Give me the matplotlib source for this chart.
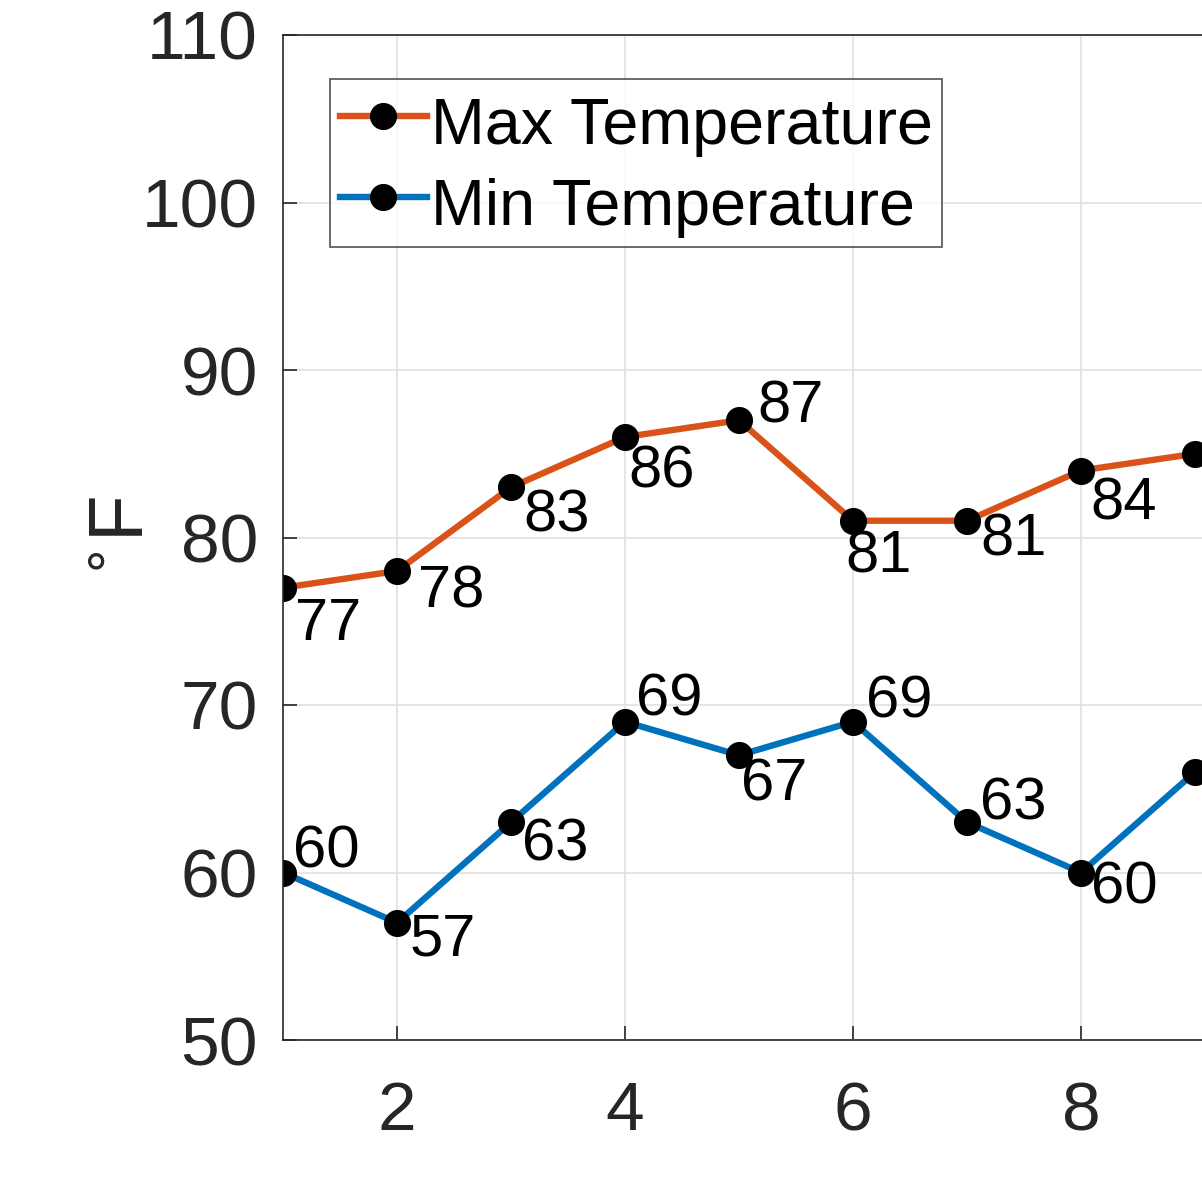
import matplotlib
matplotlib.use("Agg")
import matplotlib.pyplot as plt

# daily temperatures (degrees F)
days = [1, 2, 3, 4, 5, 6, 7, 8, 9]
max_temp = [77, 78, 83, 86, 87, 81, 81, 84, 85]
min_temp = [60, 57, 63, 69, 67, 69, 63, 60, 66]
xticks = [2, 4, 6, 8]
yticks = [50, 60, 70, 80, 90, 100, 110]

# label offsets in pixels (dx, dy), dy positive = up
max_off = [(12, -37), (21, -21), (12, -29), (3, -35), (18, 13), (-8, -36), (13, -19), (9, -33), (10, -30)]
min_off = [(10, 21), (13, -17), (11, -23), (11, 22), (2, -30), (13, 20), (13, 18), (10, -16), (10, 20)]

plt.rcParams['font.family'] = ['Liberation Sans', 'DejaVu Sans']

fig = plt.figure(figsize=(12.02, 12.02), dpi=100)
ax = fig.add_axes([283 / 1202, 162 / 1202, 1026 / 1202, 1005 / 1202])

ax.plot(days, max_temp, '-o', color='#D95319', lw=4.6, mfc='k', mec='k', ms=18.5, label='Max Temperature')
ax.plot(days, min_temp, '-o', color='#0072BD', lw=4.6, mfc='k', mec='k', ms=18.5, label='Min Temperature')

for x, y, (dx, dy) in zip(days, max_temp, max_off):
    ax.annotate(str(y), (x, y), xytext=(dx, dy), textcoords='offset pixels',
                ha='left', va='center', fontsize=43, color='k')
for x, y, (dx, dy) in zip(days, min_temp, min_off):
    ax.annotate(str(y), (x, y), xytext=(dx, dy), textcoords='offset pixels',
                ha='left', va='center', fontsize=43, color='k')

ax.set_xlim(1, 10)
ax.set_ylim(50, 110)
ax.set_xticks(xticks)
ax.set_yticks(yticks)
ax.grid(True, color='#e0e0e0', lw=1.2)
ax.set_axisbelow(True)
ax.tick_params(direction='in', length=10, width=1.2, labelsize=50, colors='#262626', pad=18)
ax.tick_params(axis='x', pad=29)
for s in ax.spines.values():
    s.set_color('#262626')
    s.set_linewidth(1.2)

ax.set_ylabel(r'$^{\circ}$F', fontsize=55, color='#262626', labelpad=-13)

leg = ax.legend(loc='upper left', bbox_to_anchor=(0.0458, 0.956), borderaxespad=0,
                fontsize=46.5, frameon=True, fancybox=False, edgecolor='#262626',
                handlelength=1.35, handleheight=1.2, handletextpad=0.06,
                borderpad=0.15, labelspacing=0.2)
leg.get_frame().set_linewidth(1.2)

fig.savefig('out.png', dpi=100)
